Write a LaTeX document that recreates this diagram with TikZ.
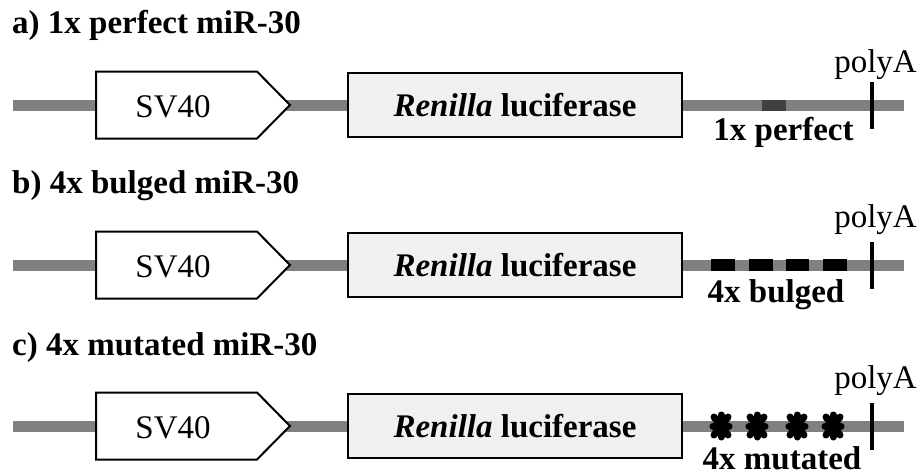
\documentclass[tikz,border=0pt]{standalone}
\usepackage{fontspec}
\setmainfont{Liberation Serif}
\definecolor{bbgray}{HTML}{808080}
\definecolor{darkseg}{HTML}{404040}
\definecolor{genefill}{HTML}{F0F0F0}
\begin{document}
\begin{tikzpicture}[x=1pt,y=-1pt,
  txt/.style={font=\fontsize{33}{40}\selectfont, inner sep=0pt},
  btxt/.style={font=\fontsize{33}{40}\selectfont\bfseries, inner sep=0pt},
  backbone/.style={draw=bbgray, line width=11pt},
  promoter/.style={draw=black, fill=white, line width=2pt, line join=miter},
  gene/.style={draw=black, fill=genefill, line width=2pt, minimum width=334pt, minimum height=64pt, inner sep=0pt, font=\fontsize{33}{40}\selectfont\bfseries},
  polyatick/.style={draw=black, line width=3.5pt},
  site/.style={draw=darkseg, line width=11pt},
  bulge/.style={draw=black, line width=12pt},
  mutline/.style={draw=black, line width=7pt, line cap=round}]
\useasboundingbox (0,0) rectangle (922,475);
\foreach \n/\y in {a/105, b/265, c/426}{
  \coordinate (s\n) at (13,\y);
  \coordinate (e\n) at (904,\y);
  \draw[backbone] (s\n) -- (e\n);
  \draw[promoter] (96,\y-33.5) -- (257,\y-33.5) -- (290,\y) -- (257,\y+33.5) -- (96,\y+33.5) -- cycle;
  \node[txt, anchor=base] (sv\n) at (173,\y+12) {SV40};
  \node[gene] (ren\n) at (515,\y) {\textit{Renilla} luciferase};
  \coordinate (pt\n) at (872,\y-23);
  \coordinate (pb\n) at (872,\y+24);
  \draw[polyatick] (pt\n) -- (pb\n);
}
% titles
\node[btxt, anchor=base west] (ta) at (12,33) {a) 1x perfect miR-30};
\node[btxt, anchor=base west] (tb) at (12,193) {b) 4x bulged miR-30};
\node[btxt, anchor=base west] (tc) at (12,355) {c) 4x mutated miR-30};
% polyA labels
\node[txt, anchor=base east] (pa) at (917,72) {polyA};
\node[txt, anchor=base east] (pb) at (917,227) {polyA};
\node[txt, anchor=base east] (pc) at (917,388) {polyA};
% row a: perfect site
\coordinate (sa1) at (762,105);
\coordinate (sa2) at (786,105);
\draw[site] (sa1) -- (sa2);
\node[btxt, anchor=base] (la) at (783.5,140) {1x perfect};
% row b: bulged sites
\foreach \x/\w in {711/735, 749/773, 786/809, 823/847}{
  \coordinate (bl\x) at (\x,265);
  \coordinate (br\x) at (\w,265);
  \draw[bulge] (bl\x) -- (br\x);
}
\node[btxt, anchor=base] (lb) at (776,302) {4x bulged};
% row c: mutated sites
\foreach \x in {721, 757, 797, 833}{
  \coordinate (m\x) at (\x,426);
  \draw[mutline] ([yshift=-11pt]m\x) -- ([yshift=11pt]m\x);
  \draw[mutline] ([xshift=-8pt]m\x) -- ([xshift=8pt]m\x);
  \draw[mutline] ([xshift=-7pt,yshift=-9pt]m\x) -- ([xshift=7pt,yshift=9pt]m\x);
  \draw[mutline] ([xshift=-7pt,yshift=9pt]m\x) -- ([xshift=7pt,yshift=-9pt]m\x);
}
\node[btxt, anchor=base] (lc) at (782,469) {4x mutated};
\end{tikzpicture}
\end{document}
